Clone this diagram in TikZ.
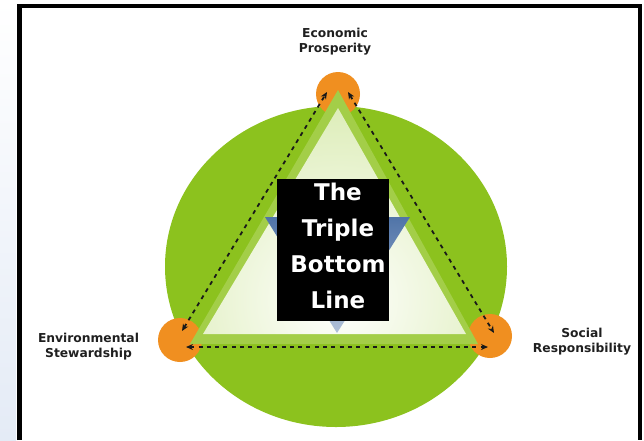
\documentclass[tikz,border=0pt]{standalone}
\usepackage{fontspec}
\setmainfont{DejaVu Sans}
\usetikzlibrary{arrows.meta}

\definecolor{leafgreen}{RGB}{140,194,30}
\definecolor{bandgreen}{RGB}{163,206,72}
\definecolor{palegreen}{RGB}{185,218,110}
\definecolor{huborange}{RGB}{240,143,32}
\definecolor{wedgeblue}{RGB}{80,116,168}
\definecolor{stripblue}{RGB}{228,235,246}

\begin{document}
\begin{tikzpicture}[x=1pt, y=-1pt,
    hub/.style={circle, fill=huborange, minimum size=44pt, inner sep=0pt},
    pillar/.style={align=center, text=black!88, font=\bfseries\fontsize{12.3}{15}\selectfont},
    link/.style={{Stealth[length=7pt,width=6pt]}-{Stealth[length=7pt,width=6pt]}, line width=1.8pt, dash pattern=on 4pt off 4.3pt, black!90}]
    \useasboundingbox (0,0) rectangle (644,440);

    % side strip and frame
    \shade[top color=white, bottom color=stripblue] (0,0) rectangle (16,440);
    \draw[line width=4.5pt] (19.5,440) -- (19.5,6) -- (640,6) -- (640,440);

    % green disc
    \fill[leafgreen] (336,266.5) ellipse [x radius=171, y radius=160.5];

    % the three pillars
    \node[hub] (eco) at (338,94) {};
    \node[hub] (env) at (180,340) {};
    \node[hub] (soc) at (490,336) {};

    % triangle band and inner glow
    \fill[bandgreen] (338,90) -- (190,344) -- (478,344) -- cycle;
    \begin{scope}
        \clip (338,108) -- (203,334) -- (466,334) -- cycle;
        \shade[inner color=white, outer color=palegreen] (338,300) circle (400);
    \end{scope}

    % blue wedge behind the title
    \shade[top color=wedgeblue, bottom color=wedgeblue!45] (265,217) -- (410,217) -- (337,333) -- cycle;

    % title box
    \node[fill=black, minimum width=112pt, minimum height=142pt, inner sep=0pt] (tbox) at (333,250) {};
    \node[align=center, text=white, font=\bfseries\fontsize{23}{36}\selectfont] (title) at (338,246) {The\\Triple\\Bottom\\Line};

    % links between pillars
    \draw[link] ([shift={(2,-9)}]env.center) -- ([shift={(-11,-2)}]eco.center);
    \draw[link] ([shift={(10,-2)}]eco.center) -- ([shift={(4,-3)}]soc.center);
    \draw[link] ([shift={(6,7)}]env.center) -- ([shift={(-2,11)}]soc.center);

    % labels
    \node[pillar] (eco-lbl) at (335,41.5) {Economic\\Prosperity};
    \node[pillar] (env-lbl) at (88.5,346.5) {Environmental\\Stewardship};
    \node[pillar] (soc-lbl) at (582,342) {Social\\Responsibility};
\end{tikzpicture}
\end{document}
